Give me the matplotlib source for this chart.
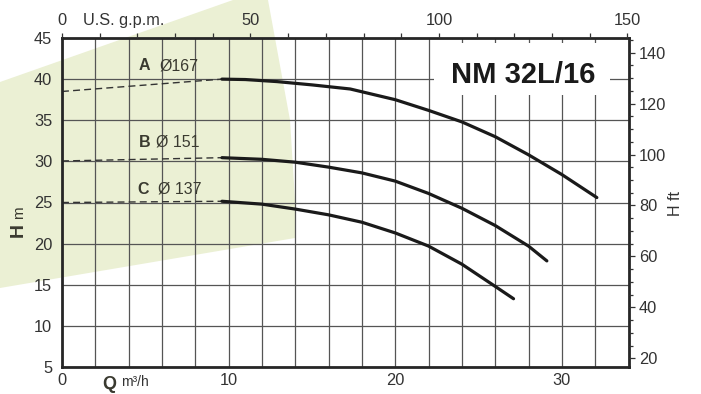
import matplotlib
matplotlib.use("Agg")
import matplotlib.pyplot as plt
from matplotlib.patches import Polygon, Rectangle
from matplotlib.ticker import MultipleLocator, FixedLocator, NullFormatter

plt.rcParams['font.family'] = ['Liberation Sans', 'DejaVu Sans']

# ---------------- data ----------------
q_ticks = [0, 10, 20, 30]
h_ticks = [5, 10, 15, 20, 25, 30, 35, 40, 45]
gpm_ticks = [0, 50, 100, 150]
ft_ticks = [20, 40, 60, 80, 100, 120, 140]

# curve A (Ø167)
qa_dash = [0, 9.6]
ha_dash = [38.5, 40.0]
qa = [9.6, 11, 12.9, 15, 17.3, 20, 22, 24, 26, 28, 30, 32.1]
ha = [40.0, 39.95, 39.7, 39.3, 38.8, 37.5, 36.2, 34.8, 33.0, 30.8, 28.4, 25.6]
# curve B (Ø151)
qb_dash = [0, 9.6]
hb_dash = [30.05, 30.45]
qb = [9.6, 12, 14, 16, 18, 20, 22, 24, 26, 28, 29.1]
hb = [30.45, 30.25, 29.9, 29.3, 28.6, 27.6, 26.1, 24.3, 22.2, 19.7, 17.9]
# curve C (Ø137)
qc_dash = [0, 9.6]
hc_dash = [25.0, 25.15]
qc = [9.6, 12, 14, 16, 18, 20, 22, 24, 26, 27.1]
hc = [25.15, 24.8, 24.2, 23.5, 22.6, 21.3, 19.7, 17.5, 14.8, 13.3]

title = "NM 32L/16"

W, H = 701, 394
fig = plt.figure(figsize=(W / 100, H / 100), dpi=100)

def px(x, y):
    return (x / W, 1 - y / H)

# axes placement
L, R, T, B = 62, 628.5, 38, 367
ax = fig.add_axes([L / W, 1 - B / H, (R - L) / W, (B - T) / H])
ax.set_facecolor('none')

# green background band (figure coordinates)
green_pts = [(0, 82), (233, 0), (268, 0), (290, 120), (295, 200), (295, 238), (0, 288)]
poly = Polygon([px(x, y) for x, y in green_pts], closed=True, transform=fig.transFigure,
               facecolor='#ebf0d4', edgecolor='none', zorder=-5)
fig.add_artist(poly)

XMAX = 34
ax.set_xlim(0, XMAX)
ax.set_ylim(5, 45)

ax.xaxis.set_major_locator(FixedLocator(q_ticks))
ax.xaxis.set_minor_locator(MultipleLocator(2))
ax.yaxis.set_major_locator(FixedLocator(h_ticks))
ax.grid(True, which='both', color='#555555', lw=0.9, zorder=1)
ax.set_axisbelow(True)

tick_col = '#333333'
ax.tick_params(axis='x', which='both', length=0, pad=4.3, labelsize=11.8, labelcolor=tick_col)
ax.tick_params(axis='y', which='both', length=0, pad=7, labelsize=11.8, labelcolor=tick_col)

for s in ax.spines.values():
    s.set_linewidth(2.0)
    s.set_color('#262626')
    s.set_zorder(6)

# white box behind title
ax.add_patch(Rectangle((22.3, 38.07), 32.9 - 22.3, 44.4 - 38.07, facecolor='white',
                       edgecolor='none', zorder=2))
ax.text(27.7, 40.5, title, fontsize=21, fontweight='bold', ha='center', va='center',
        color='#1a1a1a', zorder=3)

# curves
cur_col = '#1a1a1a'
for qd, hd, qs, hs in [(qa_dash, ha_dash, qa, ha), (qb_dash, hb_dash, qb, hb),
                       (qc_dash, hc_dash, qc, hc)]:
    ax.plot(qd, hd, color='#333333', lw=1.0, linestyle=(0, (5, 3)), zorder=4)
    ax.plot(qs, hs, color=cur_col, lw=2.3, solid_capstyle='round', solid_joinstyle='round', zorder=5)

# curve labels
lab_col = '#3a3a30'
ax.text(4.62, 41.6, "A", fontsize=11.5, fontweight='bold', ha='left', va='center', color=lab_col, zorder=4)
ax.text(5.83, 41.6, "Ø167", fontsize=11.5, ha='left', va='center', color=lab_col, zorder=4)
ax.text(4.62, 32.3, "B", fontsize=11.5, fontweight='bold', ha='left', va='center', color=lab_col, zorder=4)
ax.text(5.65, 32.3, "Ø 151", fontsize=11.5, ha='left', va='center', color=lab_col, zorder=4)
ax.text(4.5, 26.63, "C", fontsize=11.5, fontweight='bold', ha='left', va='center', color=lab_col, zorder=4)
ax.text(5.77, 26.63, "Ø 137", fontsize=11.5, ha='left', va='center', color=lab_col, zorder=4)

# top axis: U.S. gpm
axt = ax.twiny()
axt.set_xlim(0, 150.3)
axt.xaxis.set_major_locator(FixedLocator(gpm_ticks))
axt.xaxis.set_minor_locator(MultipleLocator(10))
axt.tick_params(axis='x', which='both', direction='out', length=3.5, width=0.9,
                color='#333333', pad=4, labelsize=11.8, labelcolor=tick_col)
for s in axt.spines.values():
    s.set_visible(False)

# right axis: H ft
axr = ax.twinx()
ft_per_px = 1 / 2.547
axr.set_ylim(20 - (B - 358.3) * ft_per_px, 20 + (358.3 - T) * ft_per_px)
axr.yaxis.set_major_locator(FixedLocator(ft_ticks))
axr.yaxis.set_minor_locator(MultipleLocator(5))
axr.yaxis.set_minor_formatter(NullFormatter())
axr.tick_params(axis='y', which='major', direction='out', length=4, width=0.9,
                color='#333333', pad=3.5, labelsize=11.8, labelcolor=tick_col)
axr.tick_params(axis='y', which='minor', direction='out', length=3, width=0.9, color='#333333')
for s in axr.spines.values():
    s.set_visible(False)

# axis titles
fig.text(*px(83, 20), "U.S. g.p.m.", fontsize=11.8, ha='left', va='center', color=tick_col)
fig.text(*px(676, 204), "H ft", fontsize=11.5, rotation=90, ha='center', va='center', color=tick_col)
fig.text(*px(23, 230), "H", fontsize=14, fontweight='bold', rotation=90, rotation_mode='anchor',
         ha='center', va='baseline', color='#3a3a30')
fig.text(*px(23, 213), "m", fontsize=11, rotation=90, rotation_mode='anchor',
         ha='center', va='baseline', color='#3a3a30')
fig.text(*px(102, 389), "Q", fontsize=13, fontweight='bold', ha='left', va='baseline', color='#3a3a30')
fig.text(*px(121, 386), "m³/h", fontsize=10, ha='left', va='baseline', color=tick_col)

fig.savefig("out.png", dpi=100)
